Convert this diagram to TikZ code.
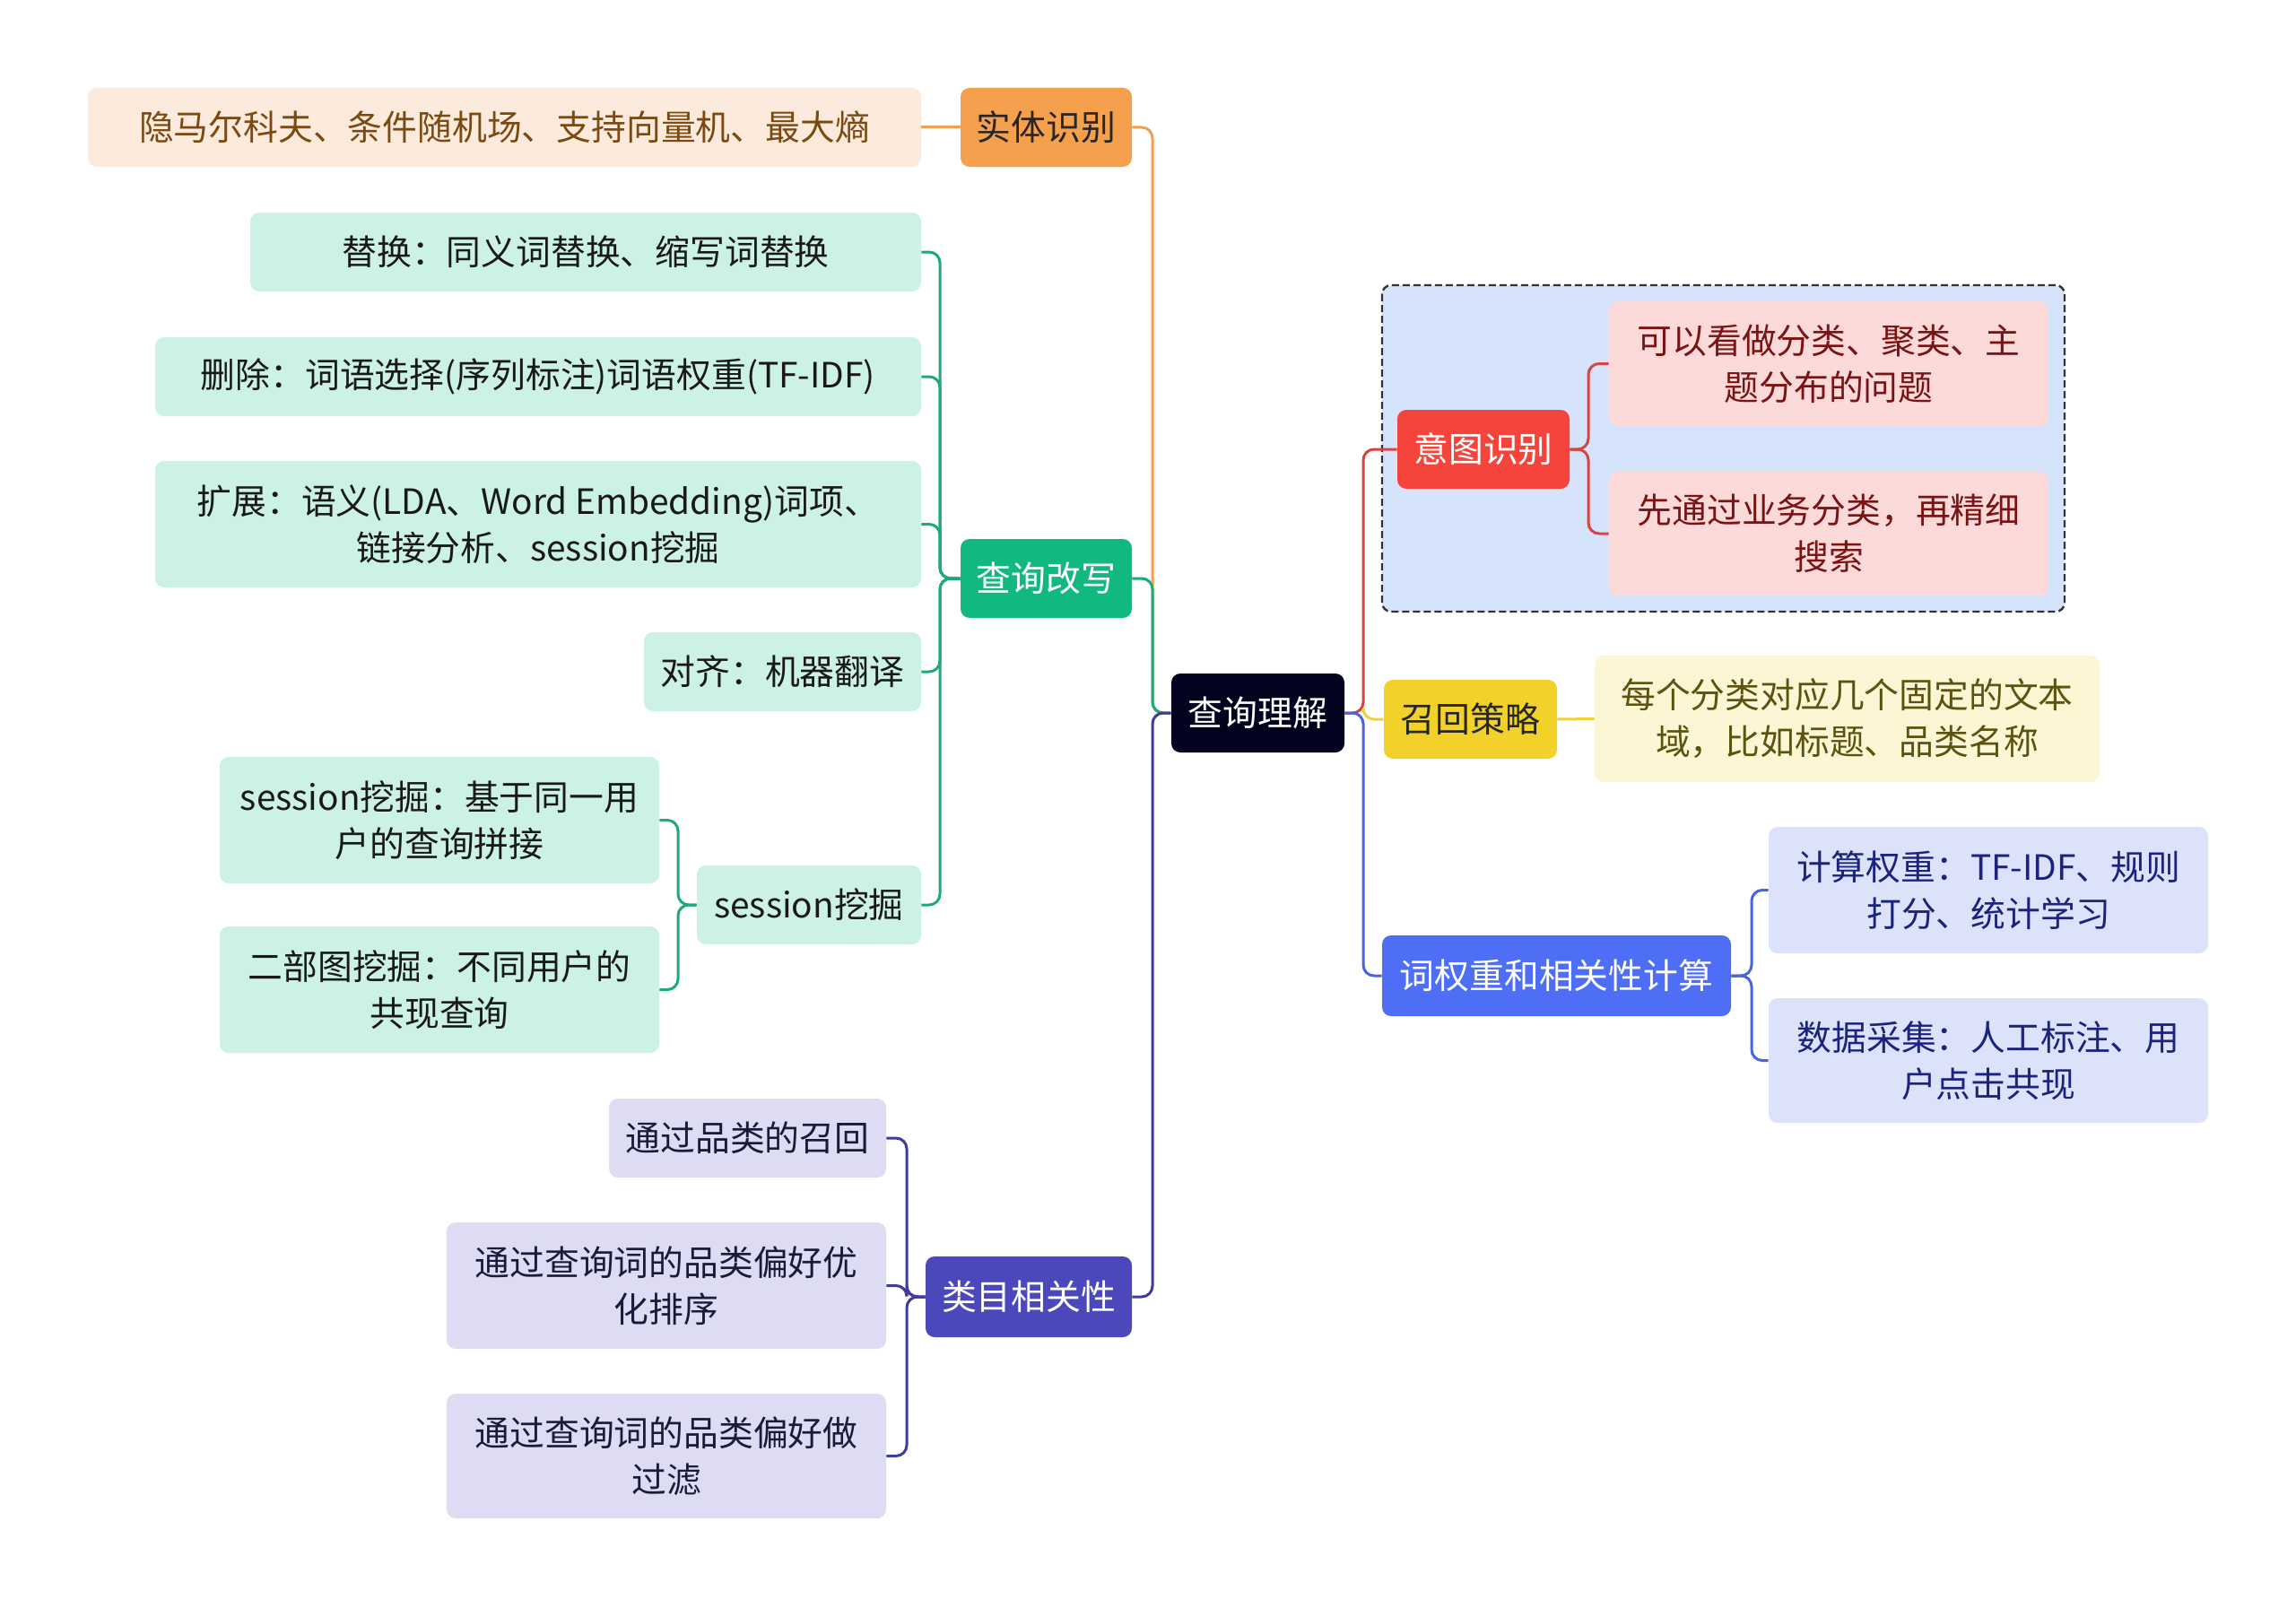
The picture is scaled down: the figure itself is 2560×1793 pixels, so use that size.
\documentclass[tikz,border=0pt]{standalone}
\usepackage{fontspec}
\setmainfont{Noto Sans CJK SC}
\definecolor{rootc}{HTML}{03031F}
\definecolor{orgF}{HTML}{F5A04C}
\definecolor{orgL}{HTML}{F0A04E}
\definecolor{orgC}{HTML}{FCEBDC}
\definecolor{orgT}{HTML}{7A4A12}
\definecolor{grnF}{HTML}{12B97E}
\definecolor{grnL}{HTML}{1DAA78}
\definecolor{grnC}{HTML}{CCF2E3}
\definecolor{purF}{HTML}{4A48BB}
\definecolor{purL}{HTML}{3F3C9E}
\definecolor{purC}{HTML}{DDDCF2}
\definecolor{purT}{HTML}{1A1A3A}
\definecolor{redF}{HTML}{F5443B}
\definecolor{redL}{HTML}{D64540}
\definecolor{redC}{HTML}{FCDADA}
\definecolor{redT}{HTML}{7A1414}
\definecolor{bgBox}{HTML}{D5E3FB}
\definecolor{yelF}{HTML}{F2D12A}
\definecolor{yelL}{HTML}{EFD23A}
\definecolor{yelC}{HTML}{FCF6D5}
\definecolor{yelT}{HTML}{5C5310}
\definecolor{bluF}{HTML}{4E6EF5}
\definecolor{bluL}{HTML}{4A64E0}
\definecolor{bluC}{HTML}{DCE2FA}
\definecolor{bluT}{HTML}{1A237E}
\tikzset{
  box/.style={rounded corners=5pt, inner sep=0pt, align=center, font=\fontsize{19.4pt}{26pt}\selectfont},
  conn/.style={line width=1.5pt, rounded corners=6pt},
}
\begin{document}
\begin{tikzpicture}[x=0.5pt,y=-0.5pt]
\useasboundingbox (0,0) rectangle (2560,1793);
\fill[white] (0,0) rectangle (2560,1793);

% dashed group box
\filldraw[fill=bgBox, draw=black!80, line width=1.2pt, dash pattern=on 4pt off 2pt, rounded corners=5pt] (1541,318) rectangle (2302,682);

% root
\node[box, fill=rootc, text=white, minimum width=96.5pt, minimum height=44pt] (root) at (1402.5,795) {查询理解};

% left main branches
\node[box, fill=orgF, text=black!85, minimum width=95.5pt, minimum height=44pt] (ent) at (1166.5,142) {实体识别};
\node[box, fill=orgC, text=orgT, minimum width=464.5pt, minimum height=44pt] (entc) at (562.5,142) {隐马尔科夫、条件随机场、支持向量机、最大熵};

\node[box, fill=grnF, text=white, minimum width=95.5pt, minimum height=44pt] (rew) at (1166.5,645) {查询改写};
\node[box, fill=grnC, text=black!90, minimum width=374pt, minimum height=44pt] (r1) at (653,281) {替换：同义词替换、缩写词替换};
\node[box, fill=grnC, text=black!90, minimum width=427pt, minimum height=44pt] (r2) at (600,420) {删除：词语选择(序列标注)词语权重(TF-IDF)};
\node[box, fill=grnC, text=black!90, minimum width=427pt, minimum height=70.5pt] (r3) at (600,584.5) {扩展：语义(LDA、Word Embedding)词项、\\链接分析、session挖掘};
\node[box, fill=grnC, text=black!90, minimum width=154.5pt, minimum height=44pt] (r4) at (872.5,749) {对齐：机器翻译};
\node[box, fill=grnC, text=black!90, minimum width=125pt, minimum height=44pt] (ses) at (902,1009) {session挖掘};
\node[box, fill=grnC, text=black!90, minimum width=245pt, minimum height=70.5pt] (s1) at (490,914.5) {session挖掘：基于同一用\\户的查询拼接};
\node[box, fill=grnC, text=black!90, minimum width=245pt, minimum height=70.5pt] (s2) at (490,1103.5) {二部图挖掘：不同用户的\\共现查询};

\node[box, fill=purF, text=white, minimum width=115pt, minimum height=45pt] (cat) at (1147,1446) {类目相关性};
\node[box, fill=purC, text=purT, minimum width=154.5pt, minimum height=44pt] (c1) at (833.5,1269) {通过品类的召回};
\node[box, fill=purC, text=purT, minimum width=245pt, minimum height=70.5pt] (c2) at (743,1433.5) {通过查询词的品类偏好优\\化排序};
\node[box, fill=purC, text=purT, minimum width=245pt, minimum height=69.5pt] (c3) at (743,1623.5) {通过查询词的品类偏好做\\过滤};

% right main branches
\node[box, fill=redF, text=white, minimum width=96pt, minimum height=44pt] (int) at (1654,501) {意图识别};
\node[box, fill=redC, text=redT, minimum width=245pt, minimum height=69.5pt] (i1) at (2039,405.5) {可以看做分类、聚类、主\\题分布的问题};
\node[box, fill=redC, text=redT, minimum width=245pt, minimum height=69pt] (i2) at (2039,595) {先通过业务分类，再精细\\搜索};

\node[box, fill=yelF, text=black!85, minimum width=96.5pt, minimum height=44pt] (rec) at (1639.5,802) {召回策略};
\node[box, fill=yelC, text=yelT, minimum width=281.5pt, minimum height=70.5pt] (rc) at (2059.5,801.5) {每个分类对应几个固定的文本\\域，比如标题、品类名称};

\node[box, fill=bluF, text=white, minimum width=194.5pt, minimum height=45pt] (wt) at (1735.5,1088) {词权重和相关性计算};
\node[box, fill=bluC, text=bluT, minimum width=245pt, minimum height=70.5pt] (w1) at (2217,992.5) {计算权重：TF-IDF、规则\\打分、统计学习};
\node[box, fill=bluC, text=bluT, minimum width=245pt, minimum height=69.5pt] (w2) at (2217,1182.5) {数据采集：人工标注、用\\户点击共现};

% trunk coordinates
\coordinate (TL) at (1285,795);
\coordinate (TR) at (1520,795);
\coordinate (Trew) at (1048,645);
\coordinate (Tses) at (756,1009);
\coordinate (Tcat) at (1011,1446);
\coordinate (Tint) at (1771,501);
\coordinate (Twt) at (1953,1088);

% root connectors
\draw[conn, orgL] (ent.east) -| (TL) -- (root.west);
\draw[conn, grnL] (rew.east) -| (TL) -- (root.west);
\draw[conn, purL] (cat.east) -| (TL) -- (root.west);
\draw[conn, redL] (root.east) -- (TR) |- (int.west);
\draw[conn, yelL] (TR) |- (rec.west);
\draw[conn, bluL] (root.east) -- (TR) |- (wt.west);

% sub connectors
\draw[conn, orgL] (ent.west) -- (entc.east);
\foreach \n in {r1,r2,r3,r4,ses}{\draw[conn, grnL] (rew.west) -- (Trew) |- (\n.east);}
\foreach \n in {s1,s2}{\draw[conn, grnL] (ses.west) -- (Tses) |- (\n.east);}
\foreach \n in {c1,c2,c3}{\draw[conn, purL] (cat.west) -- (Tcat) |- (\n.east);}
\foreach \n in {i1,i2}{\draw[conn, redL] (int.east) -- (Tint) |- (\n.west);}
\draw[conn, yelL] (rec.east) -- (rc.west);
\foreach \n in {w1,w2}{\draw[conn, bluL] (wt.east) -- (Twt) |- (\n.west);}
\end{tikzpicture}
\end{document}
